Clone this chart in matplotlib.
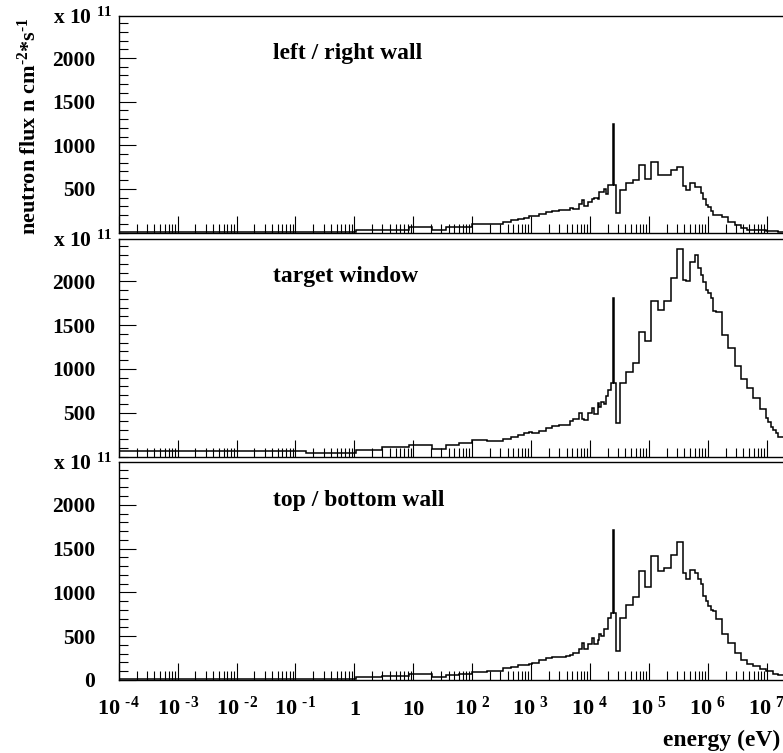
import numpy as np
import matplotlib
matplotlib.use('Agg')
import matplotlib.pyplot as plt
from matplotlib.ticker import FixedLocator, LogLocator, MultipleLocator, NullFormatter

plt.rcParams['font.family'] = 'Liberation Serif'
plt.rcParams['font.weight'] = 'bold'
plt.rcParams['mathtext.fontset'] = 'custom'
plt.rcParams['mathtext.rm'] = 'Liberation Serif:bold'
plt.rcParams['mathtext.it'] = 'Liberation Serif:bold'
plt.rcParams['mathtext.bf'] = 'Liberation Serif:bold'

# group boundaries, log10(E / eV)
log_edges = [-4.0, -0.82, 0.03, 0.47, 0.93, 1.32, 1.56, 1.78, 2.00, 2.26,
             2.43, 2.52, 2.66, 2.77, 2.875, 2.97, 3.01, 3.14, 3.25, 3.36,
             3.48, 3.60, 3.66, 3.71, 3.81, 3.86, 3.90, 3.96, 4.03, 4.07,
             4.13, 4.16, 4.19, 4.23, 4.27, 4.31, 4.35, 4.396, 4.413, 4.443,
             4.505, 4.610, 4.722, 4.830, 4.937, 5.040, 5.160, 5.260, 5.370, 5.482,
             5.585, 5.635, 5.698, 5.783, 5.840, 5.880, 5.925, 5.970, 6.010, 6.055,
             6.095, 6.140, 6.245, 6.350, 6.455, 6.568, 6.673, 6.775, 6.882, 6.990,
             7.030, 7.070, 7.113, 7.158, 7.200, 7.301]

# flux per group (x 1e11 n cm^-2 s^-1)
flux_side = [6, 6, 31, 31, 62, 31, 60, 65, 100, 100,
             100, 122, 141, 156, 168, 187, 187, 213, 236, 250,
             255, 260, 282, 270, 332, 370, 309, 351, 389, 397,
             380, 461, 461, 499, 442, 549, 549, 1243, 549, 229,
             488, 565, 603, 774, 611, 805, 660, 660, 717, 755,
             534, 488, 572, 526, 526, 450, 382, 317, 290, 252,
             202, 202, 176, 126, 88, 50, 31, 28, 25, 22,
             20, 17, 15, 12, 10]

flux_window = [61, 42, 72, 106, 126, 88, 129, 156, 183, 180,
               174, 202, 221, 240, 263, 285, 274, 297, 320, 346,
               365, 357, 403, 430, 499, 430, 422, 499, 556, 480,
               613, 560, 625, 600, 690, 765, 845, 1808, 845, 385,
               842, 967, 1070, 1424, 1325, 1774, 1679, 1782, 2041, 2372,
               2021, 2010, 2219, 2307, 2155, 2078, 1995, 1907, 1869, 1812,
               1660, 1656, 1386, 1241, 1031, 887, 785, 670, 545, 442,
               392, 339, 300, 263, 225]

flux_topbot = [5, 5, 34, 40, 61, 34, 50, 70, 92, 99,
               95, 138, 149, 164, 170, 176, 195, 225, 244, 255,
               263, 270, 283, 310, 348, 424, 348, 405, 474, 405,
               450, 528, 500, 577, 577, 710, 760, 1712, 760, 328,
               703, 852, 947, 1239, 1055, 1411, 1239, 1277, 1426, 1571,
               1216, 1150, 1257, 1219, 1150, 1093, 959, 902, 844, 800,
               787, 692, 528, 424, 310, 225, 175, 156, 118, 99,
               99, 99, 70, 61, 50]

panel_names = ['left / right wall', 'target window', 'top / bottom wall']
decades = list(range(-4, 8))
decade_labels = ['10 $^{\\text{-4}}$', '10 $^{\\text{-3}}$', '10 $^{\\text{-2}}$', '10 $^{\\text{-1}}$',
                 '1', '10', '10 $^{2}$', '10 $^{3}$', '10 $^{4}$', '10 $^{5}$', '10 $^{6}$', '10 $^{7}$']
y_labels = [500, 1000, 1500, 2000]

edges = 10.0 ** np.array(log_edges)

fig = plt.figure(figsize=(7.83, 7.53), dpi=100)

W, H = 783.0, 753.0
left = 118.8 / W
width = (784.4 - 118.8) / W
frames = [(15.7, 232.5), (239.0, 456.5), (462.3, 679.8)]  # pixel top/bottom

for i, (vals, name) in enumerate(zip([flux_side, flux_window, flux_topbot], panel_names)):
    top_px, bot_px = frames[i]
    ax = fig.add_axes([left, 1 - bot_px / H, width, (bot_px - top_px) / H])
    ax.stairs(vals, edges, color='black', lw=1.1)

    ax.set_xscale('log')
    ax.set_xlim(1e-4, 2e7)
    ax.set_ylim(0, 2485)

    ax.xaxis.set_major_locator(FixedLocator(10.0 ** np.array(decades)))
    ax.xaxis.set_minor_locator(LogLocator(base=10, subs=np.arange(2, 10), numticks=100))
    ax.xaxis.set_major_formatter(NullFormatter())
    ax.xaxis.set_minor_formatter(NullFormatter())

    yt = y_labels if i < 2 else [0] + y_labels
    ax.yaxis.set_major_locator(FixedLocator(yt))
    ax.yaxis.set_minor_locator(MultipleLocator(100))

    ax.tick_params(which='both', direction='in', top=False, right=False, width=0.8)
    ax.tick_params(which='major', length=12.5)
    ax.tick_params(which='minor', length=6.3)
    ax.tick_params(axis='y', labelsize=15.5, pad=17)
    for sp in ax.spines.values():
        sp.set_linewidth(1.0)

    ax.text(0.2317, 0.826, name, transform=ax.transAxes, ha='left', va='center', fontsize=17)
    ax.text(-0.0989, 0.9646, 'x 10 $^{11}$', transform=ax.transAxes, ha='left',
            va='baseline', fontsize=15.5, clip_on=False)

    if i == 2:
        for d, s in zip(decades, decade_labels):
            ax.text(10.0 ** d, -0.162, s, transform=ax.get_xaxis_transform(),
                    ha='center', va='baseline', fontsize=16, clip_on=False)

fig.text(29 / W, 1 - 17 / H, 'neutron flux n cm$^{\\text{-2}}$*s$^{\\text{-1}}$', rotation=90,
         ha='center', va='top', fontsize=16)
fig.text(780 / W, 1 - 746 / H, 'energy (eV)', ha='right', va='baseline', fontsize=17)

fig.savefig('out.png', dpi=100)
